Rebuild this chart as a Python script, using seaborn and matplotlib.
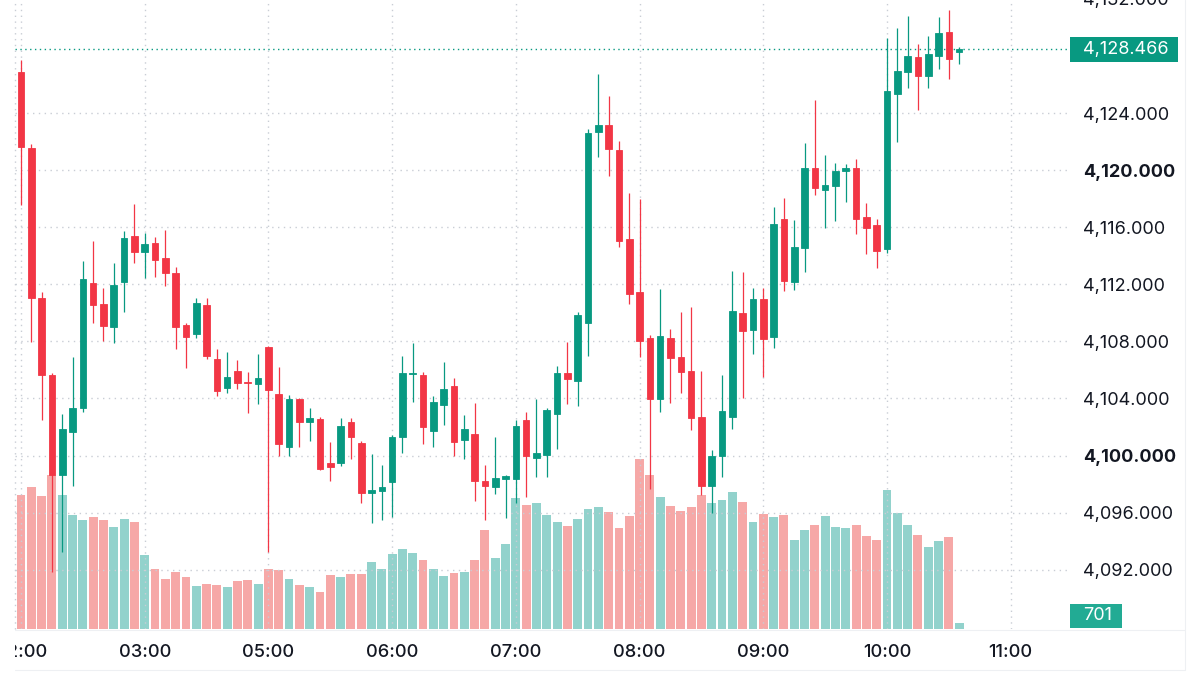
import numpy as np
import pandas as pd
import matplotlib
matplotlib.use("Agg")
import matplotlib.pyplot as plt
import seaborn as sns
from matplotlib.patches import Rectangle
from matplotlib.lines import Line2D

# ---------------- data (5-minute candles) ----------------
opens = [4126.87, 4121.57, 4111.01, 4105.64, 4098.63, 4101.67, 4103.31, 4112.11, 4110.62, 4109.02,
         4112.14, 4115.40, 4114.24, 4114.91, 4113.86, 4112.77, 4109.14, 4108.51, 4110.55, 4106.74,
         4104.71, 4105.95, 4105.15, 4105.01, 4107.62, 4104.31, 4100.62, 4103.96, 4102.35, 4102.56,
         4099.49, 4099.45, 4102.35, 4100.85, 4097.35, 4097.53, 4098.16, 4101.27, 4105.71, 4105.64,
         4101.74, 4103.54, 4104.87, 4101.09, 4101.49, 4098.21, 4097.82, 4098.34, 4098.35, 4102.49,
         4099.80, 4100.03, 4102.93, 4105.76, 4105.24, 4109.30, 4122.69, 4123.16, 4121.41, 4115.17,
         4111.48, 4108.21, 4103.94, 4108.26, 4106.88, 4105.92, 4102.68, 4097.88, 4099.98, 4102.68,
         4109.96, 4108.79, 4110.97, 4108.28, 4116.57, 4112.14, 4114.52, 4120.12, 4118.60, 4118.91,
         4119.96, 4120.12, 4116.71, 4116.14, 4114.45, 4125.31, 4126.89, 4127.95, 4126.61, 4128.02,
         4129.70, 4128.27]
highs = [4127.71, 4121.83, 4111.48, 4105.78, 4102.91, 4106.92, 4113.63, 4115.05, 4111.72, 4113.51,
         4115.73, 4117.62, 4115.61, 4115.33, 4115.80, 4113.23, 4109.26, 4111.02, 4111.07, 4107.44,
         4107.23, 4106.69, 4105.87, 4107.11, 4107.67, 4106.22, 4104.24, 4104.05, 4103.35, 4102.68,
         4100.92, 4102.60, 4102.60, 4101.04, 4100.12, 4099.35, 4101.43, 4106.99, 4107.90, 4105.87,
         4104.17, 4106.53, 4105.41, 4102.84, 4103.67, 4099.35, 4101.32, 4098.64, 4102.49, 4103.02,
         4103.98, 4103.35, 4106.27, 4107.97, 4110.05, 4122.88, 4126.71, 4125.19, 4122.04, 4118.37,
         4117.95, 4108.44, 4111.65, 4108.84, 4110.03, 4110.41, 4105.92, 4100.38, 4105.64, 4112.93,
         4112.88, 4111.72, 4111.72, 4117.43, 4118.02, 4116.50, 4121.88, 4124.91, 4121.06, 4120.48,
         4120.43, 4120.78, 4117.67, 4116.55, 4129.23, 4129.94, 4130.80, 4128.81, 4129.40, 4130.76,
         4131.22, 4128.60]
lows = [4117.55, 4107.95, 4102.49, 4091.86, 4093.24, 4097.88, 4103.07, 4109.26, 4108.02, 4107.86,
        4110.08, 4113.51, 4112.46, 4112.49, 4111.88, 4107.44, 4106.15, 4108.21, 4106.74, 4104.19,
        4104.36, 4104.66, 4103.00, 4103.59, 4093.26, 4099.96, 4099.95, 4100.62, 4101.04, 4098.98,
        4098.23, 4099.28, 4099.77, 4096.65, 4095.29, 4095.48, 4095.71, 4100.16, 4103.74, 4100.80,
        4100.57, 4102.14, 4099.95, 4099.77, 4096.83, 4095.48, 4097.28, 4095.60, 4096.65, 4097.11,
        4098.51, 4098.47, 4100.47, 4103.59, 4103.47, 4106.97, 4120.94, 4119.61, 4114.63, 4110.59,
        4106.93, 4097.63, 4103.07, 4103.66, 4104.40, 4101.79, 4097.23, 4095.95, 4098.51, 4101.84,
        4104.05, 4107.09, 4105.48, 4107.51, 4111.53, 4111.60, 4112.88, 4118.25, 4115.92, 4116.45,
        4117.78, 4115.52, 4114.10, 4113.12, 4114.17, 4121.95, 4125.73, 4124.21, 4125.77, 4127.07,
        4126.36, 4127.43]
closes = [4121.62, 4111.04, 4105.64, 4098.63, 4101.83, 4103.31, 4112.35, 4110.55, 4109.07, 4111.95,
          4115.26, 4114.28, 4114.80, 4113.70, 4112.77, 4108.98, 4108.28, 4110.71, 4106.99, 4104.54,
          4105.52, 4105.06, 4105.08, 4105.41, 4104.59, 4100.80, 4103.96, 4102.33, 4102.65, 4099.03,
          4099.19, 4102.09, 4101.32, 4097.35, 4097.58, 4097.82, 4101.27, 4105.76, 4105.81, 4101.97,
          4103.78, 4104.66, 4100.97, 4101.84, 4098.21, 4097.86, 4098.41, 4098.59, 4102.07, 4099.98,
          4100.15, 4103.19, 4105.76, 4105.34, 4109.84, 4122.62, 4123.16, 4121.46, 4115.03, 4111.29,
          4108.02, 4103.94, 4108.39, 4106.85, 4105.87, 4102.61, 4097.88, 4099.98, 4103.12, 4110.12,
          4108.75, 4110.95, 4108.14, 4116.22, 4112.23, 4114.63, 4120.12, 4118.72, 4118.95, 4119.94,
          4120.12, 4116.57, 4115.94, 4114.33, 4125.54, 4126.94, 4127.99, 4126.61, 4128.12, 4129.59,
          4127.78, 4128.466]
volumes = [15680, 16650, 15640, 18020, 15760, 13340, 12750, 13140, 12750, 11930,
           12840, 12520, 8660, 7060, 5890, 6700, 6080, 5030, 5300, 5180,
           4950, 5580, 5730, 5300, 7020, 6870, 5820, 5110, 4910, 4330,
           6320, 6080, 6400, 6470, 7840, 6990, 8740, 9400, 8860, 8070,
           6990, 6200, 6550, 6700, 8070, 11620, 8270, 9980, 15360, 14590,
           14740, 13420, 12550, 12020, 12950, 14040, 14270, 13770, 11900, 13300,
           19930, 18100, 15440, 14390, 13810, 14310, 15680, 14740, 15090, 16030,
           14890, 12520, 13540, 13190, 13370, 10410, 11620, 12170, 13300, 11930,
           11850, 12250, 10880, 10410, 16300, 13610, 12250, 11030, 9590, 10300,
           10800, 701]

time_tick_pos = [0, 12, 24, 36, 48, 60, 72, 84, 96]
time_tick_labels = ["02:00", "03:00", "05:00", "06:00", "07:00", "08:00", "09:00", "10:00", "11:00"]
price_ticks = [4092, 4096, 4100, 4104, 4108, 4112, 4116, 4120, 4124, 4132]
bold_price_ticks = [4100, 4120]

# ---------------- style ----------------
UP, DOWN = "#089981", "#F23645"
VUP, VDOWN = "#26a69a", "#ef5350"
TXT = "#131722"
GRID = "#c9cdd5"

sns.set_theme(style="white")
plt.rcParams["font.family"] = ["Inter", "DejaVu Sans"]

df = pd.DataFrame({"open": opens, "high": highs, "low": lows, "close": closes, "volume": volumes})
df["idx"] = np.arange(len(df))
df["dir"] = np.where(df["close"] >= df["open"], "up", "down")

W, H = 1200, 675
fig = plt.figure(figsize=(W / 100, H / 100), dpi=100, facecolor="white")
L, R, B, T = 15, 1070, 629, -5
rect = [L / W, (H - B) / H, (R - L) / W, (B - T) / H]
ax_vol = fig.add_axes(rect, zorder=1)
ax = fig.add_axes(rect, zorder=2)
ax.patch.set_visible(False)

xlim = (-0.58, 101.75)
ylim = (4087.85, 4132.27)

# volume bars
sns.barplot(data=df, x="idx", y="volume", hue="dir", palette={"up": VUP, "down": VDOWN},
            native_scale=True, dodge=False, width=0.86, alpha=0.5, saturation=1,
            errorbar=None, legend=False, linewidth=0, ax=ax_vol)
ax_vol.set_xlim(*xlim)
ax_vol.set_ylim(0, df["volume"].max() * 3.73)
ax_vol.axis("off")

# candles
colors = np.where(df["dir"] == "up", UP, DOWN)
ax.vlines(df["idx"], df["low"], df["high"], colors=colors, linewidth=0.9, zorder=3)
body_bottom = np.minimum(df["open"], df["close"])
body_h = np.abs(df["close"] - df["open"])
ax.bar(df["idx"], body_h, bottom=body_bottom, width=0.64, color=colors,
       edgecolor=colors, linewidth=0.6, zorder=4)

ax.set_xlim(*xlim)
ax.set_ylim(*ylim)

# grid & ticks
ax.set_xticks(time_tick_pos)
ax.set_xticklabels(time_tick_labels)
ax.set_yticks(price_ticks)
ax.set_yticklabels([f"{v:,.3f}" for v in price_ticks])
ax.yaxis.tick_right()
ax.grid(True, color=GRID, linestyle=(0, (1, 3.2)), linewidth=1.0)
ax.set_axisbelow(True)
ax.tick_params(axis="y", length=0, pad=9.5, labelsize=13, labelcolor=TXT)
ax.tick_params(axis="x", length=0, pad=10.5, labelsize=13.2, labelcolor=TXT)
for lab, v in zip(ax.get_yticklabels(), price_ticks):
    if v in bold_price_ticks:
        lab.set_fontweight("bold")
for lab in ax.get_xticklabels():
    lab.set_fontweight("medium")
for s in ax.spines.values():
    s.set_visible(False)
ax.set_xlabel("")
ax.set_ylabel("")

# last price line and label
last = df["close"].iloc[-1]
ax.axhline(last, color=UP, linestyle=(0, (1, 2.5)), linewidth=1.0, zorder=2)
inv = fig.transFigure.inverted()
y_last = inv.transform(ax.transData.transform((0, last)))[1]
fig.add_artist(Rectangle((R / W, y_last - 12.5 / H), 108 / W, 25 / H, transform=fig.transFigure,
                         facecolor=UP, edgecolor="none", zorder=5))
fig.text(1083 / W, y_last, f"{last:,.3f}", color="white", fontsize=13,
         ha="left", va="center", zorder=6)

# last volume label
y_vol0 = inv.transform(ax_vol.transData.transform((0, 0)))[1]
yv = y_vol0 + 13 / H
fig.add_artist(Rectangle((R / W, yv - 12 / H), 52 / W, 24 / H, transform=fig.transFigure,
                         facecolor="#22ab94", edgecolor="none", zorder=5))
fig.text(1083 / W, yv, f"{int(df['volume'].iloc[-1])}", color="white", fontsize=13,
         ha="left", va="center", zorder=6)

# frame lines and left clip
fig.add_artist(Rectangle((0, 0), L / W, 1, transform=fig.transFigure, facecolor="white",
                         edgecolor="none", zorder=10))
fig.add_artist(Line2D([L / W, L / W], [(H - B) / H, 1], transform=fig.transFigure,
                      color=GRID, linewidth=1.0, linestyle=(0, (1, 3.2)), zorder=11))
fig.add_artist(Line2D([L / W, 1185 / W], [(H - B - 0.5) / H] * 2, transform=fig.transFigure,
                      color="#eef0f3", linewidth=0.8, zorder=11))
fig.add_artist(Line2D([L / W, 1185 / W], [(H - 670) / H] * 2, transform=fig.transFigure,
                      color="#eef0f3", linewidth=0.8, zorder=11))
fig.add_artist(Line2D([1185 / W, 1185 / W], [(H - 670) / H, 1], transform=fig.transFigure,
                      color="#eef0f3", linewidth=0.8, zorder=11))

fig.savefig("out.png", dpi=100, facecolor="white")
